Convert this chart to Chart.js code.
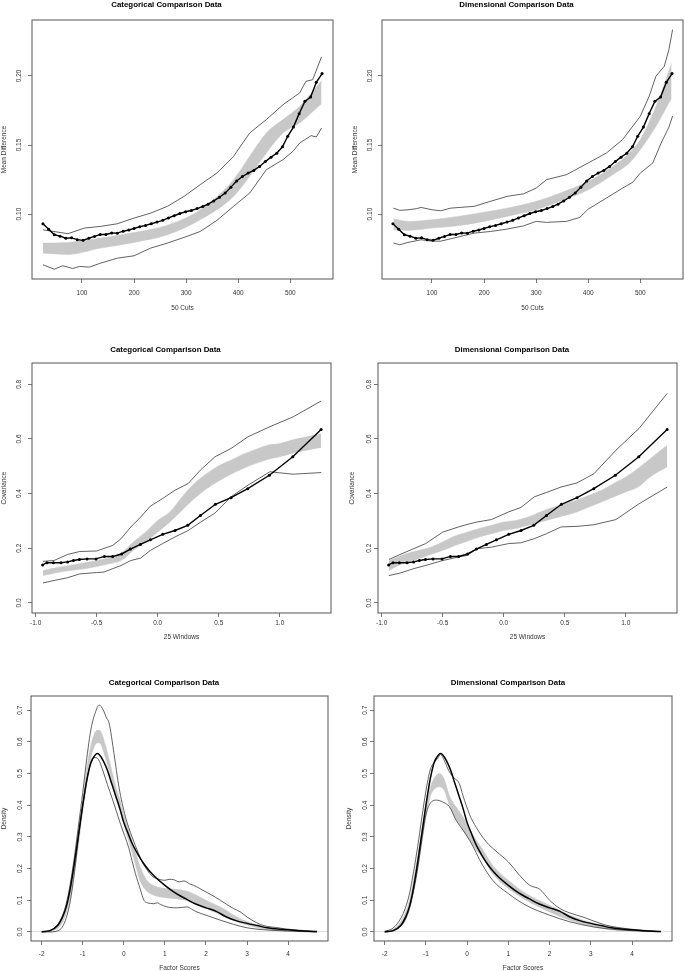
<!DOCTYPE html>
<html><head><meta charset="utf-8">
<script src="https://cdn.jsdelivr.net/npm/chart.js@4.4.1/dist/chart.umd.min.js"></script>
<style>
html,body{margin:0;padding:0;background:#fff;width:685px;height:971px;overflow:hidden;position:relative}
canvas{position:absolute}
</style></head><body>
<canvas id="c1"></canvas><canvas id="c2"></canvas><canvas id="c3"></canvas>
<canvas id="c4"></canvas><canvas id="c5"></canvas><canvas id="c6"></canvas>
<script>
// ---------------- DATA ----------------
// Row 1: 50 cuts, mean difference
const cutsX = [25,36,47,58,69,80,91,102,113,124,135,146,157,168,179,190,200,211,222,233,244,255,266,277,288,299,310,321,332,342,353,364,375,386,397,408,419,430,441,452,463,474,485,495,506,517,528,539,550,561];
const obsMeanDiff = [0.093,0.089,0.085,0.084,0.0825,0.0828,0.0815,0.081,0.0825,0.0838,0.0852,0.0852,0.0863,0.0862,0.0876,0.0885,0.0896,0.0908,0.0918,0.093,0.0942,0.0955,0.0972,0.0988,0.1004,0.1017,0.1026,0.104,0.1055,0.1072,0.1095,0.1122,0.1152,0.1195,0.124,0.1272,0.1297,0.1316,0.1345,0.138,0.1412,0.144,0.1487,0.1563,0.163,0.1727,0.1816,0.1848,0.1954,0.2017];

const catCutsBandX  = [25,73,136,200,264,327,391,422,454,486,518,560];
const catCutsBandHi = [0.079,0.0795,0.0826,0.0867,0.092,0.1031,0.1249,0.1418,0.1587,0.1684,0.178,0.1966];
const catCutsBandLo = [0.0717,0.0708,0.0754,0.0795,0.085,0.0959,0.1128,0.1273,0.1442,0.1587,0.166,0.180];
const catCutsUpX = [25,73,105,136,168,200,232,264,296,327,359,391,422,454,486,518,530,543,560];
const catCutsUpY = [0.0886,0.0858,0.0899,0.0911,0.093,0.0971,0.1007,0.1056,0.1128,0.1213,0.1297,0.1418,0.1587,0.1684,0.1792,0.1877,0.1961,0.1973,0.2138];
const catCutsLoX = [25,47,63,82,95,114,136,168,200,232,264,296,327,359,391,422,454,486,505,518,540,550,560];
const catCutsLoY = [0.0633,0.0601,0.0626,0.0606,0.0621,0.0616,0.0645,0.0681,0.0698,0.0754,0.079,0.0831,0.0874,0.0954,0.1056,0.1152,0.1321,0.1394,0.1454,0.1514,0.1568,0.1558,0.1623];

const dimCutsBandX  = [26,54,100,149,200,244,300,346,400,447,479,500,530,560];
const dimCutsBandHi = [0.0966,0.0947,0.0959,0.0983,0.1014,0.1043,0.1092,0.1152,0.1237,0.1345,0.1442,0.1539,0.178,0.209];
const dimCutsBandLo = [0.0886,0.0882,0.0899,0.0915,0.0947,0.0983,0.1031,0.1092,0.1176,0.1285,0.137,0.1466,0.1635,0.184];
const dimCutsUpX = [26,38,54,70,79,100,117,136,181,212,244,276,300,320,358,400,435,466,500,517,530,546,555,562];
const dimCutsUpY = [0.1043,0.1027,0.1031,0.1039,0.1048,0.1031,0.1024,0.1043,0.1056,0.1092,0.1128,0.1147,0.1188,0.1249,0.1285,0.137,0.1442,0.1539,0.1708,0.1853,0.1998,0.207,0.2191,0.2336];
const dimCutsLoX = [26,38,54,79,100,117,149,181,212,244,276,300,320,358,384,400,435,466,485,500,524,540,555,562];
const dimCutsLoY = [0.079,0.0778,0.0795,0.0814,0.0804,0.0804,0.0833,0.0862,0.0874,0.0891,0.0915,0.0947,0.094,0.0947,0.0976,0.1036,0.1116,0.1188,0.1229,0.1297,0.137,0.1514,0.163,0.171];

// Row 2: 25 windows, covariance
const winX = [-0.943,-0.907,-0.855,-0.792,-0.738,-0.691,-0.642,-0.579,-0.505,-0.437,-0.369,-0.295,-0.224,-0.142,-0.060,0.041,0.142,0.246,0.350,0.473,0.601,0.738,0.915,1.107,1.339];
const obsCov = [0.139,0.147,0.147,0.147,0.150,0.155,0.159,0.161,0.161,0.170,0.170,0.179,0.197,0.214,0.231,0.251,0.265,0.284,0.320,0.361,0.385,0.418,0.467,0.535,0.635];

const catWinBandX  = [-0.94,-0.8,-0.6,-0.5,-0.4,-0.3,-0.2,-0.1,0,0.1,0.2,0.3,0.4,0.5,0.6,0.7,0.8,0.9,1.0,1.1,1.2,1.34];
const catWinBandHi = [0.119,0.131,0.147,0.155,0.165,0.182,0.223,0.259,0.302,0.333,0.388,0.437,0.473,0.502,0.522,0.544,0.561,0.577,0.583,0.596,0.606,0.618];
const catWinBandLo = [0.100,0.113,0.125,0.133,0.143,0.155,0.192,0.223,0.259,0.296,0.339,0.382,0.418,0.446,0.471,0.492,0.510,0.525,0.535,0.547,0.557,0.569];
const catWinUpX = [-0.94,-0.85,-0.74,-0.64,-0.5,-0.37,-0.3,-0.22,-0.14,-0.06,0.04,0.14,0.25,0.35,0.47,0.6,0.74,0.92,1.11,1.34];
const catWinUpY = [0.152,0.155,0.177,0.188,0.190,0.210,0.235,0.278,0.314,0.354,0.382,0.412,0.437,0.486,0.535,0.565,0.608,0.645,0.681,0.739];
const catWinLoX = [-0.94,-0.85,-0.74,-0.64,-0.5,-0.44,-0.3,-0.22,-0.14,-0.06,0.04,0.14,0.25,0.35,0.47,0.6,0.74,0.92,1.0,1.11,1.34];
const catWinLoY = [0.073,0.082,0.092,0.106,0.111,0.113,0.137,0.155,0.164,0.192,0.217,0.241,0.265,0.295,0.329,0.388,0.431,0.480,0.476,0.471,0.477];

const dimWinBandX  = [-0.94,-0.8,-0.7,-0.6,-0.5,-0.4,-0.3,-0.2,-0.1,0,0.1,0.2,0.3,0.4,0.5,0.6,0.7,0.8,0.9,1.0,1.1,1.2,1.34];
const dimWinBandHi = [0.155,0.180,0.192,0.204,0.223,0.245,0.259,0.272,0.284,0.296,0.302,0.314,0.333,0.349,0.363,0.376,0.394,0.412,0.437,0.461,0.492,0.528,0.577];
const dimWinBandLo = [0.119,0.149,0.161,0.177,0.192,0.210,0.226,0.241,0.253,0.265,0.272,0.284,0.296,0.308,0.320,0.333,0.351,0.369,0.388,0.406,0.424,0.461,0.498];
const dimWinLineX = [-0.94,-0.85,-0.74,-0.64,-0.5,-0.37,-0.3,-0.22,-0.1,0.04,0.14,0.25,0.35,0.47,0.6,0.74,0.92,1.11,1.34];
const dimWinUpY = [0.159,0.177,0.198,0.217,0.259,0.278,0.287,0.296,0.305,0.333,0.349,0.388,0.404,0.424,0.439,0.473,0.559,0.639,0.767];
const dimWinLoY = [0.100,0.109,0.125,0.137,0.155,0.168,0.174,0.198,0.204,0.217,0.220,0.235,0.253,0.278,0.280,0.286,0.305,0.363,0.424];

// Row 3: factor score densities
const densX = [-2.0,-1.8,-1.6,-1.5,-1.4,-1.3,-1.2,-1.1,-1.0,-0.9,-0.8,-0.7,-0.65,-0.6,-0.5,-0.4,-0.3,-0.2,-0.1,0.0,0.1,0.2,0.3,0.4,0.5,0.62,0.75,1.0,1.25,1.5,1.75,2.0,2.25,2.5,2.75,3.0,3.25,3.5,3.75,4.0,4.25,4.5,4.7];
const densObs = [0.0005,0.004,0.022,0.045,0.08,0.14,0.22,0.31,0.40,0.48,0.535,0.558,0.563,0.56,0.54,0.51,0.47,0.43,0.39,0.345,0.312,0.28,0.255,0.232,0.213,0.193,0.175,0.147,0.123,0.105,0.088,0.076,0.065,0.047,0.035,0.027,0.02,0.013,0.009,0.007,0.004,0.002,0.001];

const catDensBandX  = [-2.0,-1.8,-1.6,-1.5,-1.4,-1.3,-1.2,-1.1,-1.0,-0.9,-0.8,-0.7,-0.62,-0.55,-0.45,-0.35,-0.2,-0.1,0.0,0.1,0.25,0.4,0.55,0.75,1.0,1.25,1.5,1.75,2.0,2.25,2.5,2.75,3.0,3.25,3.5,3.75,4.0,4.5,4.7];
const catDensBandHi = [0.001,0.005,0.025,0.045,0.085,0.145,0.23,0.33,0.42,0.52,0.59,0.63,0.637,0.63,0.59,0.54,0.46,0.42,0.37,0.33,0.268,0.205,0.165,0.145,0.138,0.135,0.13,0.117,0.1,0.085,0.068,0.047,0.033,0.022,0.013,0.008,0.006,0.002,0.001];
const catDensBandLo = [0.0,0.002,0.012,0.028,0.06,0.11,0.19,0.28,0.38,0.47,0.55,0.59,0.597,0.59,0.55,0.505,0.43,0.39,0.34,0.295,0.228,0.16,0.13,0.115,0.108,0.105,0.1,0.09,0.075,0.06,0.046,0.032,0.022,0.013,0.007,0.004,0.002,0.0,0.0];
const catDensUpX = [-2.0,-1.8,-1.6,-1.5,-1.4,-1.3,-1.2,-1.1,-1.0,-0.9,-0.8,-0.7,-0.6,-0.5,-0.42,-0.36,-0.24,-0.12,0.04,0.2,0.36,0.45,0.57,0.7,0.81,1.0,1.1,1.21,1.35,1.46,1.6,1.7,1.85,2.0,2.2,2.35,2.5,2.67,2.85,3.0,3.15,3.32,3.5,3.72,3.9,4.13,4.4,4.7];
const catDensUpY = [0.0005,0.004,0.025,0.05,0.09,0.155,0.24,0.34,0.44,0.55,0.64,0.69,0.716,0.70,0.675,0.66,0.563,0.458,0.363,0.30,0.247,0.22,0.195,0.175,0.168,0.163,0.166,0.165,0.158,0.161,0.152,0.147,0.137,0.126,0.112,0.1,0.087,0.074,0.062,0.047,0.035,0.024,0.017,0.014,0.01,0.007,0.004,0.001];
const catDensLoX = [-2.0,-1.8,-1.6,-1.5,-1.4,-1.3,-1.2,-1.1,-1.0,-0.9,-0.8,-0.7,-0.62,-0.5,-0.4,-0.28,-0.08,0.12,0.2,0.28,0.4,0.49,0.57,0.65,0.73,0.81,0.89,1.05,1.3,1.54,1.65,1.78,2.0,2.35,2.67,3.0,3.4,3.97,4.7];
const catDensLoY = [0.0,0.0,0.004,0.015,0.045,0.1,0.19,0.30,0.40,0.48,0.535,0.55,0.545,0.505,0.465,0.42,0.34,0.265,0.225,0.185,0.135,0.10,0.092,0.09,0.089,0.092,0.087,0.079,0.076,0.079,0.072,0.063,0.053,0.037,0.024,0.013,0.007,0.003,0.0];

const dimDensBandX  = [-2.0,-1.8,-1.6,-1.5,-1.4,-1.3,-1.2,-1.1,-1.0,-0.9,-0.8,-0.67,-0.55,-0.43,-0.27,-0.1,0.06,0.22,0.38,0.62,1.0,1.43,2.0,2.49,3.06,3.63,4.2,4.7];
const dimDensBandHi = [0.001,0.008,0.035,0.06,0.1,0.165,0.24,0.32,0.40,0.455,0.485,0.5,0.48,0.43,0.395,0.363,0.325,0.29,0.26,0.21,0.163,0.121,0.084,0.053,0.028,0.014,0.005,0.001];
const dimDensBandLo = [0.0,0.003,0.02,0.035,0.07,0.125,0.20,0.28,0.36,0.425,0.45,0.458,0.445,0.40,0.355,0.321,0.29,0.258,0.235,0.184,0.137,0.10,0.063,0.037,0.016,0.005,0.001,0.0];
const dimDensUpX = [-2.0,-1.8,-1.6,-1.5,-1.4,-1.3,-1.2,-1.1,-1.0,-0.9,-0.8,-0.72,-0.65,-0.55,-0.45,-0.35,-0.19,-0.1,0.06,0.22,0.46,0.7,1.0,1.27,1.52,1.76,2.0,2.25,2.49,2.81,3.06,3.38,3.71,4.03,4.7];
const dimDensUpY = [0.002,0.012,0.045,0.075,0.12,0.19,0.27,0.36,0.445,0.51,0.535,0.547,0.56,0.54,0.51,0.49,0.468,0.43,0.37,0.33,0.285,0.255,0.221,0.179,0.147,0.135,0.10,0.074,0.06,0.047,0.035,0.021,0.013,0.008,0.001];
const dimDensLoX = [-2.0,-1.8,-1.6,-1.5,-1.4,-1.3,-1.2,-1.1,-1.0,-0.9,-0.75,-0.59,-0.43,-0.27,-0.1,0.06,0.22,0.3,0.62,1.0,1.43,2.0,2.49,3.06,3.63,4.7];
const dimDensLoY = [0.0,0.003,0.02,0.04,0.075,0.13,0.2,0.29,0.37,0.405,0.416,0.41,0.395,0.353,0.321,0.289,0.25,0.228,0.163,0.121,0.084,0.053,0.032,0.016,0.007,0.001];

// Tick labels
const cutsTicks = [100,200,300,400,500];
const meanDiffTicks = [0.10,0.15,0.20];
const winTicks = [-1.0,-0.5,0.0,0.5,1.0];
const covTicks = [0.0,0.2,0.4,0.6,0.8];
const scoreTicks = [-2,-1,0,1,2,3,4];
const densTicks = [0.0,0.1,0.2,0.3,0.4,0.5,0.6,0.7];

// ---------------- DRAWING ----------------
const FONT = "'Liberation Sans', Arial, sans-serif";
const TICK_SIZE = 6.5, AX_SIZE = 6.5, TITLE_SIZE = 7.9, LH = 1.2;
function measure(txt, size){ const c=document.createElement('canvas').getContext('2d'); c.font = size+'px '+FONT; return c.measureText(txt).width; }
function xy(xs, ys){ return xs.map((x,i)=>({x:x, y:ys[i]})); }

const boxPlugin = {id:'rbox', afterDraw(chart){
  const a = chart.chartArea, ctx = chart.ctx;
  ctx.save(); ctx.strokeStyle = '#555'; ctx.lineWidth = 1;
  ctx.strokeRect(a.left, a.top, a.right - a.left, a.bottom - a.top);
  ctx.restore();
}};

function band(xs, hi, lo){
  return [
    {data: xy(xs,hi), fill:'+1', backgroundColor:'#c8c8c8', borderColor:'#c8c8c8', borderWidth:0.5, pointRadius:0, cubicInterpolationMode:'monotone', order:3},
    {data: xy(xs,lo), fill:false, borderColor:'#c8c8c8', borderWidth:0.5, pointRadius:0, cubicInterpolationMode:'monotone', order:3}
  ];
}
function thin(xs, ys, smooth){
  return {data: xy(xs,ys), fill:false, borderColor:'#3a3a3a', borderWidth:0.8, pointRadius:0, cubicInterpolationMode: smooth?'monotone':'default', tension:0, order:2};
}
function obs(xs, ys, pts){
  return {data: xy(xs,ys), fill:false, borderColor:'#000', borderWidth: pts?1.4:1.5, pointRadius: pts?1.5:0, pointBackgroundColor:'#000', pointBorderWidth:0, cubicInterpolationMode: pts?'default':'monotone', tension:0, order:1};
}

function panel(id, g, s){
  const canvasLeft = Math.max(0, Math.floor(g.yTitleX - 5));
  const m = g.boxL - canvasLeft;
  const canvasRight = g.boxR + m;
  const canvasTop = Math.floor(g.titleY - 6);
  const canvasBottom = Math.ceil(g.xTitleY + 5);
  const W = canvasRight - canvasLeft, H = canvasBottom - canvasTop;
  const cv = document.getElementById(id);
  cv.style.left = canvasLeft + 'px'; cv.style.top = canvasTop + 'px';
  cv.width = W; cv.height = H; cv.style.width = W+'px'; cv.style.height = H+'px';

  const tlh = TITLE_SIZE*LH, alh = AX_SIZE*LH, klh = TICK_SIZE*LH;
  const t1 = g.titleY - canvasTop - tlh/2;
  const t2 = g.boxT - canvasTop - t1 - tlh;
  const xH = canvasBottom - g.boxB;
  const xTitlePB = canvasBottom - g.xTitleY - alh/2;
  const xTickPad = g.xTickY - g.boxB - 4 - klh/2;
  const yW = g.boxL - canvasLeft;
  const yTitlePT = g.yTitleX - canvasLeft - alh/2;
  const yLabW = measure(s.yFmt(s.yTicks[0]), TICK_SIZE);
  const yTickPad = g.boxL - 4 - yLabW/2 - g.yTickX;

  new Chart(cv, {
    type:'line',
    data:{datasets: s.datasets},
    plugins:[boxPlugin],
    options:{
      responsive:false, animation:false, devicePixelRatio: window.devicePixelRatio || 1,
      layout:{padding:{left:0, right: canvasRight - g.boxR, top:0, bottom:0}},
      plugins:{
        legend:{display:false}, tooltip:{enabled:false},
        title:{display:true, text:s.title, color:'#000', font:{family:FONT, size:TITLE_SIZE, weight:'bold', lineHeight:LH}, padding:{top:t1, bottom:t2}}
      },
      scales:{
        x:{type:'linear', min:s.xMin, max:s.xMax,
          afterBuildTicks: sc => { sc.ticks = s.xTicks.map(v=>({value:v})); },
          afterFit: sc => { sc.height = xH; },
          ticks:{autoSkip:false, maxRotation:0, minRotation:0, padding:xTickPad, color:'#333', font:{family:FONT, size:TICK_SIZE, lineHeight:LH}, callback: v => s.xFmt(v)},
          grid:{drawOnChartArea:false, drawTicks:true, tickLength:4, tickColor:'#555', tickWidth:0.8},
          border:{display:false},
          title:{display:true, text:s.xTitle, color:'#333', font:{family:FONT, size:AX_SIZE, lineHeight:LH}, padding:{top:0, bottom:xTitlePB}}
        },
        y:{type:'linear', min:s.yMin, max:s.yMax,
          afterBuildTicks: sc => { sc.ticks = s.yTicks.map(v=>({value:v})); },
          afterFit: sc => { sc.width = yW; },
          ticks:{autoSkip:false, minRotation:90, maxRotation:90, crossAlign:'center', padding:yTickPad, color:'#333', font:{family:FONT, size:TICK_SIZE, lineHeight:LH}, callback: v => s.yFmt(v)},
          grid:{drawOnChartArea: !!s.zeroLine, drawTicks:true, tickLength:4, tickColor:'#555', tickWidth:0.8, lineWidth:1,
                color: c => (s.zeroLine && c.tick && Math.abs(c.tick.value) < 1e-9) ? '#dddddd' : 'rgba(0,0,0,0)'},
          border:{display:false},
          title:{display:true, text:s.yTitle, color:'#333', font:{family:FONT, size:AX_SIZE, lineHeight:LH}, padding:{top:yTitlePT, bottom:0}}
        }
      }
    }
  });
}

const f2 = v => v.toFixed(2), f1 = v => v.toFixed(1), f0 = v => String(v);

const G = {
  p1:{boxL:32, boxT:20, boxR:333, boxB:279, titleY:5, xTickY:293, xTitleY:308, yTickX:19.5, yTitleX:4.7},
  p2:{boxL:382, boxT:20, boxR:683, boxB:279, titleY:5, xTickY:293, xTitleY:308, yTickX:370, yTitleX:355},
  p3:{boxL:32, boxT:363, boxR:331, boxB:613, titleY:350, xTickY:623, xTitleY:637, yTickX:19.3, yTitleX:4.5},
  p4:{boxL:378, boxT:363, boxR:677, boxB:613, titleY:350, xTickY:623, xTitleY:637, yTickX:369.3, yTitleX:352.7},
  p5:{boxL:31, boxT:696, boxR:328, boxB:941, titleY:683, xTickY:954, xTitleY:968, yTickX:20.5, yTitleX:4.2},
  p6:{boxL:374, boxT:696, boxR:672, boxB:941, titleY:683, xTickY:954, xTitleY:968, yTickX:365, yTitleX:349.3}
};

const rowCuts = {xMin:4, xMax:582, yMin:0.053, yMax:0.2405, xTicks:cutsTicks, yTicks:meanDiffTicks, xFmt:f0, yFmt:f2, xTitle:'50 Cuts', yTitle:'Mean Difference'};
const rowWin = {xMin:-1.03, xMax:1.42, yMin:-0.037, yMax:0.878, xTicks:winTicks, yTicks:covTicks, xFmt:f1, yFmt:f1, xTitle:'25 Windows', yTitle:'Covariance'};
const rowDens = {xMin:-2.26, xMax:4.97, yMin:-0.0286, yMax:0.7446, xTicks:scoreTicks, yTicks:densTicks, xFmt:f0, yFmt:f1, xTitle:'Factor Scores', yTitle:'Density', zeroLine:true};

panel('c1', G.p1, Object.assign({}, rowCuts, {title:'Categorical Comparison Data', datasets:[
  obs(cutsX, obsMeanDiff, true), thin(catCutsUpX, catCutsUpY), thin(catCutsLoX, catCutsLoY), ...band(catCutsBandX, catCutsBandHi, catCutsBandLo)]}));
panel('c2', G.p2, Object.assign({}, rowCuts, {title:'Dimensional Comparison Data', datasets:[
  obs(cutsX, obsMeanDiff, true), thin(dimCutsUpX, dimCutsUpY), thin(dimCutsLoX, dimCutsLoY), ...band(dimCutsBandX, dimCutsBandHi, dimCutsBandLo)]}));
panel('c3', G.p3, Object.assign({}, rowWin, {title:'Categorical Comparison Data', datasets:[
  obs(winX, obsCov, true), thin(catWinUpX, catWinUpY), thin(catWinLoX, catWinLoY), ...band(catWinBandX, catWinBandHi, catWinBandLo)]}));
panel('c4', G.p4, Object.assign({}, rowWin, {title:'Dimensional Comparison Data', datasets:[
  obs(winX, obsCov, true), thin(dimWinLineX, dimWinUpY), thin(dimWinLineX, dimWinLoY), ...band(dimWinBandX, dimWinBandHi, dimWinBandLo)]}));
panel('c5', G.p5, Object.assign({}, rowDens, {title:'Categorical Comparison Data', datasets:[
  obs(densX, densObs, false), thin(catDensUpX, catDensUpY, true), thin(catDensLoX, catDensLoY, true), ...band(catDensBandX, catDensBandHi, catDensBandLo)]}));
panel('c6', G.p6, Object.assign({}, rowDens, {title:'Dimensional Comparison Data', datasets:[
  obs(densX, densObs, false), thin(dimDensUpX, dimDensUpY, true), thin(dimDensLoX, dimDensLoY, true), ...band(dimDensBandX, dimDensBandHi, dimDensBandLo)]}));
</script>
</body></html>
